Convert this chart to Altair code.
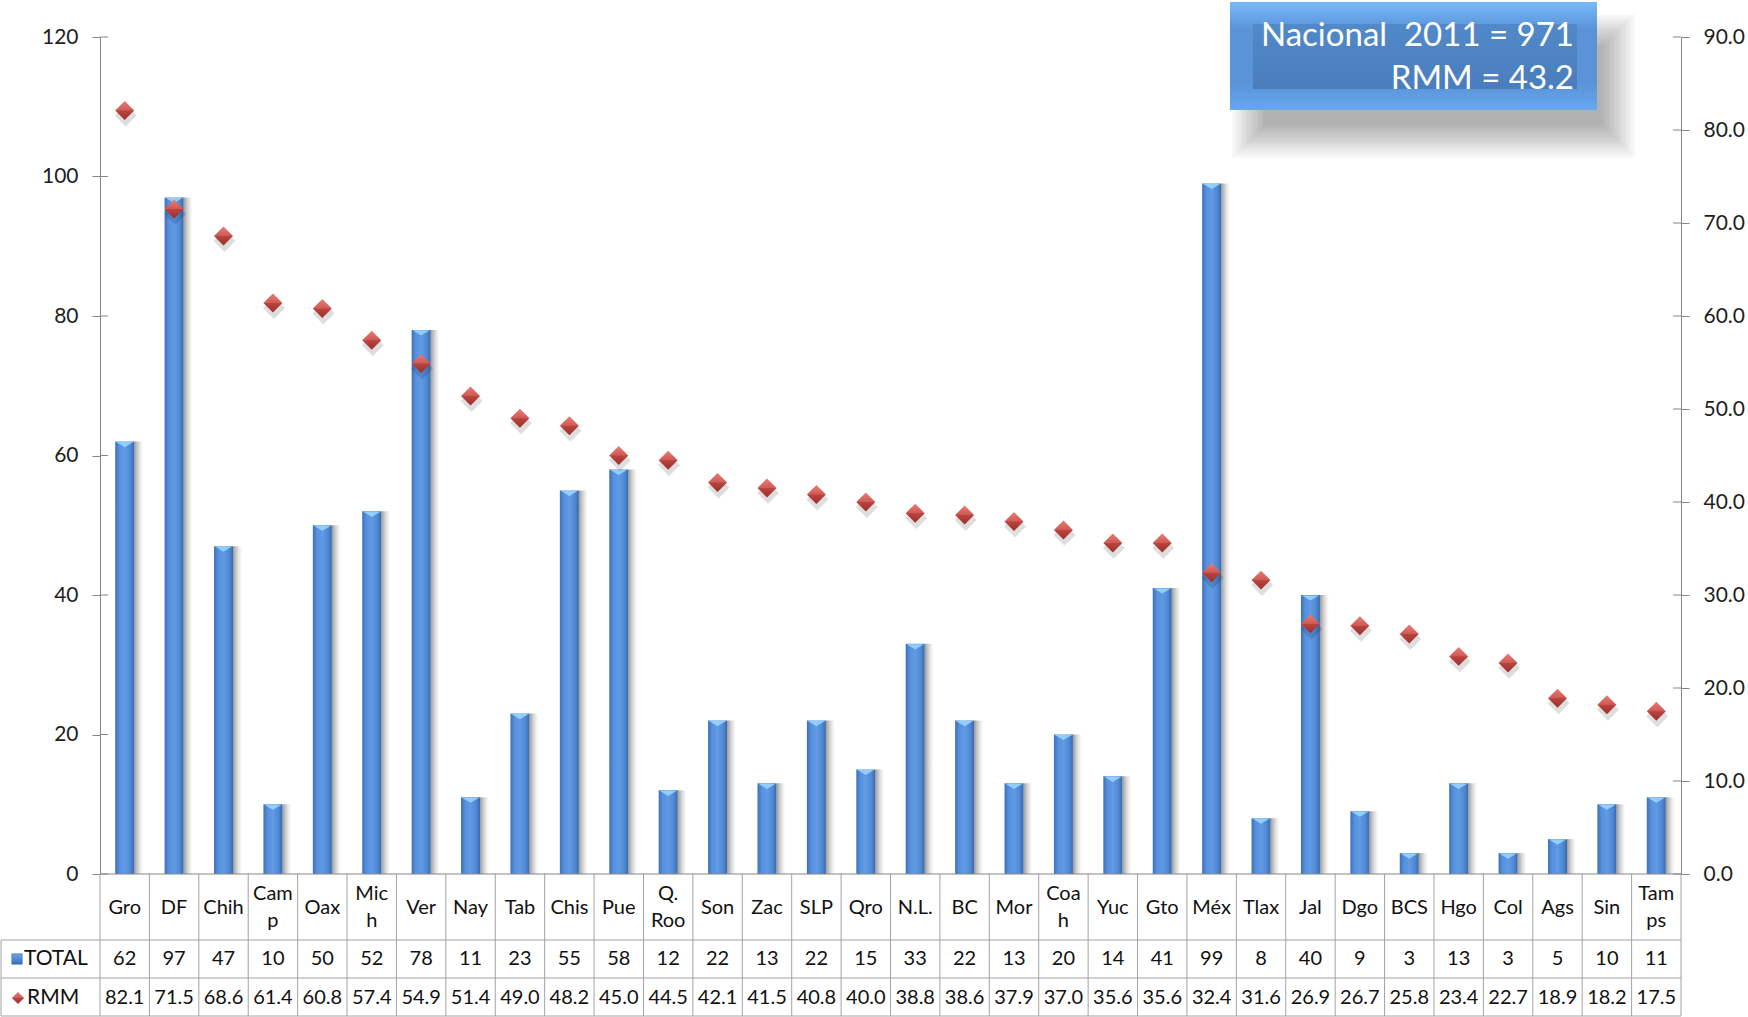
import altair as alt
import pandas as pd

categories = ["Gro", "DF", "Chih", "Camp", "Oax", "Mich", "Ver", "Nay", "Tab", "Chis",
              "Pue", "Q. Roo", "Son", "Zac", "SLP", "Qro", "N.L.", "BC", "Mor", "Coah",
              "Yuc", "Gto", "Méx", "Tlax", "Jal", "Dgo", "BCS", "Hgo", "Col", "Ags",
              "Sin", "Tamps"]
labels = ["Gro", "DF", "Chih", "Cam\np", "Oax", "Mic\nh", "Ver", "Nay", "Tab", "Chis",
          "Pue", "Q.\nRoo", "Son", "Zac", "SLP", "Qro", "N.L.", "BC", "Mor", "Coa\nh",
          "Yuc", "Gto", "Méx", "Tlax", "Jal", "Dgo", "BCS", "Hgo", "Col", "Ags",
          "Sin", "Tam\nps"]
total = [62, 97, 47, 10, 50, 52, 78, 11, 23, 55, 58, 12, 22, 13, 22, 15, 33, 22, 13, 20,
         14, 41, 99, 8, 40, 9, 3, 13, 3, 5, 10, 11]
rmm = [82.1, 71.5, 68.6, 61.4, 60.8, 57.4, 54.9, 51.4, 49.0, 48.2, 45.0, 44.5, 42.1, 41.5,
       40.8, 40.0, 38.8, 38.6, 37.9, 37.0, 35.6, 35.6, 32.4, 31.6, 26.9, 26.7, 25.8, 23.4,
       22.7, 18.9, 18.2, 17.5]
left_ticks = [0, 20, 40, 60, 80, 100, 120]
right_ticks = [0, 10, 20, 30, 40, 50, 60, 70, 80, 90]
box_line1 = "Nacional\u00a0 2011 = 971"
box_line2 = "RMM = 43.2"

df = pd.DataFrame({"cat": categories, "label": labels, "total": total, "rmm": rmm})
df["rmm_txt"] = [f"{v:.1f}" for v in rmm]
df["two"] = [("\n" in s) for s in labels]
dummy = pd.DataFrame({"k": [0]})

W, H = 1581, 837
FONT = "Lato"
GRID = "#a3a3a3"
AXIS = "#868686"

xscale = alt.Scale(domain=categories, paddingInner=0, paddingOuter=0)
X = alt.X("cat:N", sort=categories, scale=xscale, axis=None)
yl_scale = alt.Scale(domain=[0, 120], nice=False, zero=True)
yr_scale = alt.Scale(domain=[0, 90], nice=False, zero=True)


def grad(stops, horizontal=True):
    return alt.Gradient(
        gradient="linear",
        stops=[alt.GradientStop(color=c, offset=o) for o, c in stops],
        x1=0, x2=1 if horizontal else 0, y1=0, y2=0 if horizontal else 1,
    )


bar_fill = grad([(0, "#3d71b9"), (0.22, "#5790dc"), (0.5, "#609be6"),
                 (0.8, "#4f88d3"), (1, "#3869ad")])
shadow_fill = grad([(0, "rgba(70,70,70,0.55)"), (1, "rgba(160,160,160,0)")])
diamond_fill = grad([(0, "#e87d76"), (0.48, "#d15a55"), (0.52, "#b9433f"), (1, "#9a302c")],
                    horizontal=False)

base = alt.Chart(df)

bar_shadow = base.mark_bar(size=9, xOffset=14, fill=shadow_fill).encode(
    x=X, y=alt.Y("total:Q", scale=yl_scale, axis=None))

bars = base.mark_bar(size=19, fill=bar_fill).encode(
    x=X,
    y=alt.Y("total:Q", scale=yl_scale, title=None,
            axis=alt.Axis(orient="left", values=left_ticks, grid=False, tickSize=8,
                          tickColor=AXIS, domainColor=AXIS, labelFont=FONT,
                          labelFontSize=21, labelColor="#1e1e1e", labelPadding=14,
                          title=None)))

caps = base.mark_point(shape="M-1,-0.3L1,-0.3L0,0.3Z", size=300, filled=True,
                       fill="#9ad8ff", opacity=0.85, strokeWidth=0, yOffset=3).encode(
    x=X, y=alt.Y("total:Q", scale=yl_scale, axis=None))

dia_shadow = base.mark_point(shape="diamond", size=480, filled=True, fill="#000000",
                             opacity=0.13, strokeWidth=0, yOffset=5, xOffset=1).encode(
    x=X, y=alt.Y("rmm:Q", scale=yr_scale, axis=None))

diamonds = base.mark_point(shape="diamond", size=360, filled=True, fill=diamond_fill,
                           opacity=1, strokeWidth=0).encode(
    x=X,
    y=alt.Y("rmm:Q", scale=yr_scale, title=None,
            axis=alt.Axis(orient="right", values=right_ticks, format=".1f", grid=False,
                          tickSize=8, tickColor=AXIS, domainColor=AXIS, labelFont=FONT,
                          labelFontSize=21, labelColor="#1e1e1e", labelPadding=14,
                          title=None)))

lt = pd.DataFrame({"v": left_ticks})
rt = pd.DataFrame({"v": right_ticks})
in_ticks_l = alt.Chart(lt).mark_rule(color=AXIS).encode(
    x=alt.value(0), x2=alt.value(8), y=alt.Y("v:Q", scale=yl_scale, axis=None))
in_ticks_r = alt.Chart(rt).mark_rule(color=AXIS).encode(
    x=alt.value(W - 8), x2=alt.value(W), y=alt.Y("v:Q", scale=yr_scale, axis=None))


def hrule(y, x0, x1, color=GRID):
    return alt.Chart(dummy).mark_rule(color=color, strokeWidth=1).encode(
        x=alt.value(x0), x2=alt.value(x1), y=alt.value(y))


def vrule(x, y0, y1, color=GRID):
    return alt.Chart(dummy).mark_rule(color=color, strokeWidth=1).encode(
        x=alt.value(x), y=alt.value(y0), y2=alt.value(y1))


col_lines = base.mark_rule(color=GRID, strokeWidth=1).encode(
    x=alt.X("cat:N", sort=categories, scale=xscale, axis=None, bandPosition=0),
    y=alt.value(H), y2=alt.value(H + 142))

table_lines = [
    col_lines,
    vrule(W, H, H + 142),
    vrule(-99, H + 66, H + 142),
    hrule(H + 66, -99, W),
    hrule(H + 104, -99, W),
    hrule(H + 142, -99, W),
    hrule(H, 0, W, AXIS),
]

txt_kw = dict(font=FONT, fontSize=20, baseline="middle", align="center", color="#111111")
cat_text1 = base.transform_filter("!datum.two").mark_text(**txt_kw).encode(
    x=X, y=alt.value(H + 34), text="label:N")
cat_text2 = base.transform_filter("datum.two").mark_text(
    lineBreak="\n", lineHeight=27, **txt_kw).encode(
    x=X, y=alt.value(H + 20), text="label:N")
tot_text = base.mark_text(**txt_kw).encode(
    x=X, y=alt.value(H + 85), text="total:Q")
rmm_text = base.mark_text(**txt_kw).encode(
    x=X, y=alt.value(H + 124), text="rmm_txt:N")

key_sq = alt.Chart(dummy).mark_point(shape="square", size=110, filled=True,
                                     fill=grad([(0, "#6aa6ec"), (1, "#3b6fb6")], False),
                                     stroke="#2f5f9f", strokeWidth=0.5, opacity=1).encode(
    x=alt.value(-83), y=alt.value(H + 85))
key_dia = alt.Chart(dummy).mark_point(shape="diamond", size=150, filled=True,
                                      fill=diamond_fill, strokeWidth=0, opacity=1).encode(
    x=alt.value(-82), y=alt.value(H + 124))
key_tot = alt.Chart(pd.DataFrame({"t": ["TOTAL"]})).mark_text(
    font=FONT, fontSize=21, align="left", baseline="middle", color="#111111").encode(
    x=alt.value(-76), y=alt.value(H + 85), text="t:N")
key_rmm = alt.Chart(pd.DataFrame({"t": ["RMM"]})).mark_text(
    font=FONT, fontSize=21, align="left", baseline="middle", color="#111111").encode(
    x=alt.value(-73), y=alt.value(H + 124), text="t:N")

# annotation box (pixel layout, relative to plot origin)
bx0, bx1, by0, by1 = 1130, 1497, -35, 73
shadow_layers = []
for k in range(14):
    shadow_layers.append(
        alt.Chart(dummy).mark_rect(color="#000000", opacity=0.024).encode(
            x=alt.value(bx0 + 2 + 2.5 * k), x2=alt.value(bx1 + 38 - 2.5 * k),
            y=alt.value(by0 + 12 + 2.5 * k), y2=alt.value(by1 + 48 - 2.5 * k)))

box_outer = alt.Chart(dummy).mark_rect(
    fill=grad([(0, "#78baf9"), (0.25, "#5a93d8"), (0.75, "#5a93d8"), (1, "#66a8ee")], False)
).encode(x=alt.value(bx0), x2=alt.value(bx1), y=alt.value(by0), y2=alt.value(by1))
box_inner = alt.Chart(dummy).mark_rect(
    fill=grad([(0, "#5189c9"), (1, "#4a7dbc")], False)
).encode(x=alt.value(bx0 + 23), x2=alt.value(bx1 - 20),
         y=alt.value(by0 + 22), y2=alt.value(by1 - 21))
box_t1 = alt.Chart(pd.DataFrame({"t": [box_line1]})).mark_text(
    font=FONT, fontSize=33, align="right", baseline="alphabetic", color="white").encode(
    x=alt.value(1474), y=alt.value(9), text="t:N")
box_t2 = alt.Chart(pd.DataFrame({"t": [box_line2]})).mark_text(
    font=FONT, fontSize=33, align="right", baseline="alphabetic", color="white").encode(
    x=alt.value(1474), y=alt.value(52), text="t:N")

layers = ([bar_shadow, bars, caps, in_ticks_l, dia_shadow, diamonds, in_ticks_r]
          + table_lines + [cat_text1, cat_text2, tot_text, rmm_text,
                           key_sq, key_dia, key_tot, key_rmm]
          + shadow_layers + [box_outer, box_inner, box_t1, box_t2])

chart = alt.layer(*layers).resolve_scale(y="independent").properties(
    width=W, height=H,
    autosize=alt.AutoSizeParams(type="none"),
    padding={"left": 100, "top": 37, "right": 67, "bottom": 143},
    background="white",
).configure_view(stroke=None)

chart.save("out.html", embed_options={"renderer": "svg", "actions": False})
